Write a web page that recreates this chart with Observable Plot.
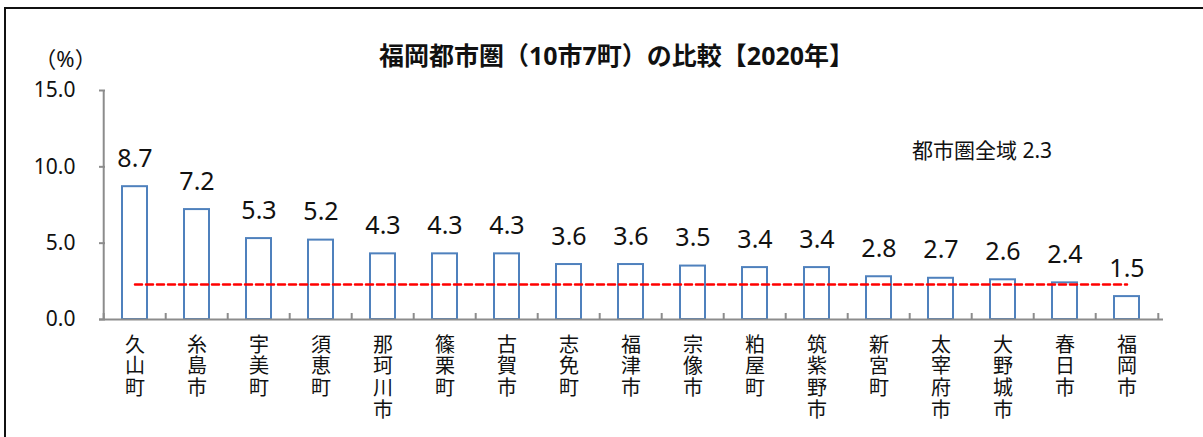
<!DOCTYPE html>
<html>
<head>
<meta charset="utf-8">
<script src="https://cdn.jsdelivr.net/npm/d3@7"></script>
<script src="https://cdn.jsdelivr.net/npm/@observablehq/plot@0.6"></script>
<style>
  html, body { margin: 0; padding: 0; background: #fff; overflow: hidden; }
  #wrap { position: relative; width: 1203px; height: 437px; }
  #border { position: absolute; left: 4px; top: 7px; width: 1300px; height: 600px; border: 2px solid #111; box-sizing: border-box; pointer-events: none; }
  #chart { position: absolute; left: 0; top: 0; }
</style>
</head>
<body>
<div id="wrap"><div id="chart"></div><div id="border"></div></div>
<script>
const categories = ["久山町","糸島市","宇美町","須恵町","那珂川市","篠栗町","古賀市","志免町","福津市","宗像市","粕屋町","筑紫野市","新宮町","太宰府市","大野城市","春日市","福岡市"];
const values = [8.7,7.2,5.3,5.2,4.3,4.3,4.3,3.6,3.6,3.5,3.4,3.4,2.8,2.7,2.6,2.4,1.5];
const areaAverage = 2.3;
const areaLabel = "都市圏全域";
const yTicks = [0, 5, 10, 15];
const title = "福岡都市圏（10市7町）の比較【2020年】";
const unitLabel = "（%）";

const data = categories.map((name, i) => ({name, value: values[i]}));

const W = 1203, H = 437;
const mL = 99, mR = 40, mT = 90, mB = 118;
const plotW = W - mL - mR, plotH = H - mT - mB;
const step = plotW / categories.length;
const axisColor = "#8c8c8c";
const font = "'Noto Sans', 'Noto Sans CJK JP', sans-serif";

const chart = Plot.plot({
  width: W, height: H,
  marginLeft: mL, marginRight: mR, marginTop: mT, marginBottom: mB,
  style: {fontFamily: font, fontSize: "16px", background: "transparent", color: "#111"},
  x: {domain: categories, paddingInner: 0.59, paddingOuter: 0.295, axis: null},
  y: {domain: [0, 15], axis: null},
  marks: [
    // bars
    Plot.barY(data, {x: "name", y: "value", fill: "white", stroke: "#4f81bd", strokeWidth: 2}),
    // area average dashed line
    Plot.lineY(categories, {x: d => d, y: () => areaAverage, stroke: "#ff0000", strokeWidth: 2.5, strokeDasharray: "7,4"}),
    // axis lines
    Plot.ruleY([0], {stroke: axisColor, strokeWidth: 2}),
    Plot.ruleX([categories[0]], {x: d => d, dx: -step / 2, stroke: axisColor, strokeWidth: 2}),
    // y ticks (inward)
    Plot.tickY(yTicks, {y: d => d, insetRight: plotW - 6, stroke: axisColor, strokeWidth: 2}),
    // x boundary ticks (inward)
    Plot.tickX(categories, {x: d => d, dx: -step / 2, insetTop: plotH - 6, stroke: axisColor, strokeWidth: 2}),
    Plot.tickX([categories[categories.length - 1]], {x: d => d, dx: step / 2, insetTop: plotH - 6, stroke: axisColor, strokeWidth: 2}),
    // y tick labels
    Plot.axisY(yTicks, {anchor: "left", tickSize: 0, tickPadding: 24, tickFormat: d => d.toFixed(1), fontSize: 21, fill: "#111", label: null}),
    // value labels
    Plot.text(data, {x: "name", y: "value", text: d => d.value.toFixed(1), lineAnchor: "bottom", dy: -20, fontSize: 25, fill: "#111"}),
    // vertical category labels
    Plot.text(categories, {x: d => d, y: () => 0, text: d => Array.from(d).join("\n"), lineAnchor: "top", lineHeight: 1.08, dy: 17, fontSize: 20, fill: "#111"}),
    // area annotation
    Plot.text([areaAverage], {x: () => categories[14], y: () => 11, text: d => `${areaLabel} ${d.toFixed(1)}`, dx: -21, fontSize: 21, fill: "#111"}),
    // title
    Plot.text([title], {frameAnchor: "top", text: d => d, dx: -15, dy: -34, lineAnchor: "middle", fontSize: 25, fontWeight: "bold", fill: "#111"}),
    // unit
    Plot.text([unitLabel], {frameAnchor: "top-left", text: d => d, textAnchor: "middle", dx: -34, dy: -31, lineAnchor: "middle", fontSize: 22, fill: "#111"})
  ]
});
document.getElementById("chart").appendChild(chart);
</script>
</body>
</html>
